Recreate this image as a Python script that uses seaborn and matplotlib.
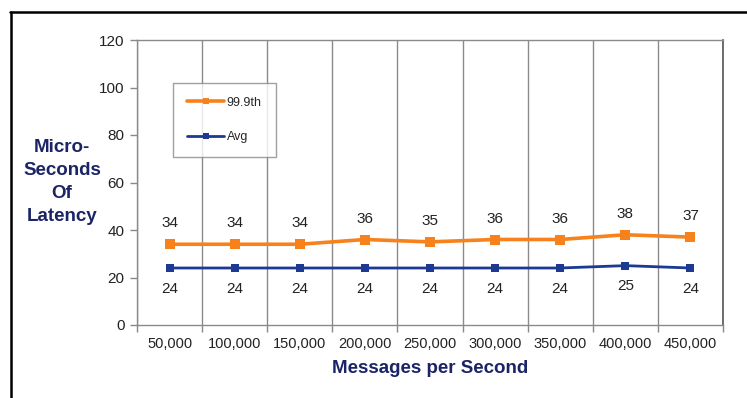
import matplotlib
matplotlib.use("Agg")
import matplotlib.pyplot as plt
from matplotlib.lines import Line2D
from matplotlib.ticker import FixedLocator
import seaborn as sns
import pandas as pd
import numpy as np

categories = ["50,000", "100,000", "150,000", "200,000", "250,000",
              "300,000", "350,000", "400,000", "450,000"]
p999 = [34, 34, 34, 36, 35, 36, 36, 38, 37]
avg = [24, 24, 24, 24, 24, 24, 24, 25, 24]
y_ticks = [0, 20, 40, 60, 80, 100, 120]

sns.set_theme(style="white")
plt.rcParams['font.family'] = ['Liberation Sans', 'DejaVu Sans']

ORANGE = "#F7821B"
NAVY = "#1C3A94"
TXT = "#1A2466"

df = pd.DataFrame({"x": list(range(len(categories))) * 2,
                   "val": p999 + avg,
                   "series": ["99.9th"] * len(categories) + ["Avg"] * len(categories)})

fig = plt.figure(figsize=(7.47, 3.98), dpi=100)
ax = fig.add_axes([137/747, 1-325/398, (723-137)/747, (325-40)/398])

sns.lineplot(data=df[df.series == "99.9th"], x="x", y="val", ax=ax, color=ORANGE,
             lw=2.6, marker="s", markersize=7, markeredgewidth=0, label="99.9th")
sns.lineplot(data=df[df.series == "Avg"], x="x", y="val", ax=ax, color=NAVY,
             lw=2.0, marker="s", markersize=5.5, markeredgewidth=0, label="Avg")

ax.set_xlim(-0.5, len(categories) - 0.5)
ax.set_ylim(0, 120)
ax.set_yticks(y_ticks)
ax.set_yticklabels([str(v) for v in y_ticks], fontsize=11, color="#222222")
ax.set_xticks(range(len(categories)))
ax.set_xticklabels(categories, fontsize=10.5, color="#222222")
ax.xaxis.set_minor_locator(FixedLocator(np.arange(-0.5, len(categories), 1.0)))
ax.tick_params(axis="x", which="major", length=0, pad=9)
ax.tick_params(axis="x", which="minor", length=5, color="#888888", width=1, bottom=True)
ax.tick_params(axis="y", length=5, color="#888888", width=1, left=True, pad=4)
ax.grid(False)
ax.grid(True, axis="x", which="minor", color="#8a8a8a", lw=1)

for s in ["left", "bottom", "top"]:
    ax.spines[s].set_color("#8a8a8a")
    ax.spines[s].set_linewidth(1)
ax.spines["right"].set_color("#555555")
ax.spines["right"].set_linewidth(1.2)

for i, v in enumerate(p999):
    ax.annotate(str(v), (i, v), xytext=(0, 15), textcoords="offset points",
                ha="center", va="center", fontsize=11, color="#222222")
for i, v in enumerate(avg):
    ax.annotate(str(v), (i, v), xytext=(0, -15), textcoords="offset points",
                ha="center", va="center", fontsize=11, color="#222222")

ax.set_xlabel("Messages per Second", fontsize=13.5, fontweight="bold", color=TXT, labelpad=6)
ax.set_ylabel("")
fig.text(62/747, 1-182/398, "Micro-\nSeconds\nOf\nLatency", ha="center", va="center",
         fontsize=13.5, fontweight="bold", color=TXT, linespacing=1.45)

leg = ax.legend(loc="upper left", bbox_to_anchor=((173-137)/586, (325-83)/285),
                frameon=True, fancybox=False, fontsize=9, labelspacing=1.8,
                handlelength=3.0, borderpad=1.1, handletextpad=0.2, borderaxespad=0)
leg.get_frame().set_edgecolor("#888888")
leg.get_frame().set_linewidth(1)
for h in leg.legend_handles:
    h.set_markersize(4)

fig.add_artist(Line2D([10/747, 1], [1-12/398, 1-12/398], color="black", lw=1.8,
                      transform=fig.transFigure))
fig.add_artist(Line2D([11/747, 11/747], [0, 1-12/398], color="black", lw=1.8,
                      transform=fig.transFigure))

fig.savefig("out.png", dpi=100)
